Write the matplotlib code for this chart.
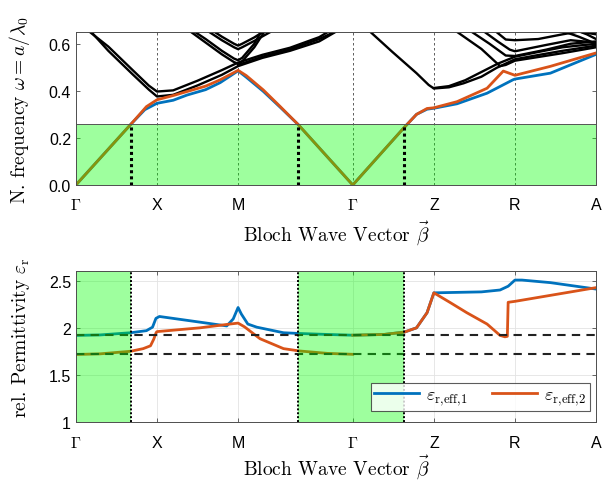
import numpy as np
import matplotlib
matplotlib.use("Agg")
from matplotlib import pyplot as plt

plt.rcParams['font.family'] = ['Liberation Sans', 'DejaVu Sans']
plt.rcParams['mathtext.fontset'] = 'cm'
plt.rcParams['axes.formatter.use_mathtext'] = True

# path Gamma-X-M-Gamma-Z-R-A, segment lengths in units of pi/a
seg_len = [1, 1, np.sqrt(2), 1, 1, 1]
tick_pos = np.concatenate([[0], np.cumsum(seg_len)])
tick_lab = [r'$\Gamma$', 'X', 'M', r'$\Gamma$', 'Z', 'R', 'A']

# light line limit and where the first band crosses it
light_line = 0.257
crossings = [0.675, 2.74, 4.05]

# first band (two polarisations)
b1_x = [0, 0.675, 0.85, 1.0, 1.2, 1.37, 1.6, 1.78, 2.0, 2.1, 2.31, 2.52, 2.74, 3.414,
        4.05, 4.2, 4.33, 4.414, 4.7, 5.07, 5.39, 5.414, 5.85, 6.414]
b1_y = [0, 0.257, 0.32, 0.347, 0.36, 0.382, 0.405, 0.435, 0.485, 0.458, 0.398, 0.33, 0.257, 0,
        0.245, 0.30, 0.322, 0.326, 0.345, 0.39, 0.447, 0.45, 0.475, 0.555]
b2_x = [0, 0.675, 0.87, 1.0, 1.2, 1.37, 1.6, 1.78, 2.0, 2.1, 2.31, 2.52, 2.74, 3.414,
        4.05, 4.2, 4.33, 4.414, 4.7, 5.07, 5.27, 5.414, 5.85, 6.414]
b2_y = [0, 0.257, 0.333, 0.362, 0.38, 0.397, 0.42, 0.447, 0.487, 0.465, 0.404, 0.333, 0.257, 0,
        0.245, 0.30, 0.325, 0.328, 0.354, 0.411, 0.484, 0.466, 0.504, 0.561]

# higher bands (black)
hb = [
    ([0.08, 0.4, 0.7, 0.9, 1.0, 1.2, 1.5, 1.8, 2.0, 2.3, 2.64, 3.0, 3.18],
     [0.675, 0.588, 0.488, 0.422, 0.397, 0.402, 0.443, 0.488, 0.52, 0.553, 0.583, 0.628, 0.665]),
    ([0.15, 0.4, 0.7, 0.9, 1.0, 1.2, 1.5, 1.8, 2.0, 2.3, 2.64, 3.0, 3.2],
     [0.665, 0.57, 0.47, 0.405, 0.376, 0.383, 0.423, 0.468, 0.505, 0.54, 0.57, 0.61, 0.65]),
    ([2.0, 2.3, 2.64, 3.0, 3.25],
     [0.51, 0.545, 0.576, 0.62, 0.66]),
    ([1.38, 1.6, 1.8, 1.95, 2.0, 2.05, 2.2, 2.34],
     [0.66, 0.605, 0.555, 0.522, 0.515, 0.525, 0.585, 0.66]),
    ([1.36, 1.6, 1.8, 1.95, 2.0, 2.05, 2.2, 2.32],
     [0.675, 0.62, 0.57, 0.537, 0.53, 0.54, 0.6, 0.673]),
    ([1.6, 1.8, 1.95, 2.0, 2.05, 2.2, 2.45],
     [0.66, 0.615, 0.585, 0.577, 0.585, 0.612, 0.66]),
    ([1.6, 1.8, 1.95, 2.0, 2.05, 2.2, 2.42],
     [0.675, 0.63, 0.6, 0.592, 0.6, 0.627, 0.675]),
    ([3.6, 3.9, 4.2, 4.35, 4.414, 4.6, 4.78, 5.0, 5.19, 5.414, 5.7, 6.0, 6.414],
     [0.66, 0.566, 0.475, 0.425, 0.41, 0.415, 0.432, 0.46, 0.498, 0.534, 0.552, 0.57, 0.592]),
    ([4.414, 4.6, 4.8, 5.0, 5.2, 5.414, 5.7, 6.0, 6.414],
     [0.412, 0.42, 0.445, 0.48, 0.515, 0.545, 0.565, 0.585, 0.6]),
    ([4.66, 5.0, 5.23, 5.3, 5.414, 6.0, 6.414],
     [0.66, 0.578, 0.505, 0.51, 0.528, 0.56, 0.585]),
    ([4.84, 5.1, 5.3, 5.414, 5.8, 6.1, 6.414],
     [0.66, 0.6, 0.55, 0.548, 0.575, 0.6, 0.61]),
    ([5.0, 5.2, 5.35, 5.414, 5.8, 6.1, 6.414],
     [0.66, 0.61, 0.575, 0.568, 0.595, 0.615, 0.605]),
    ([5.15, 5.3, 5.414, 5.7, 6.0, 6.2, 6.414],
     [0.66, 0.618, 0.615, 0.62, 0.64, 0.652, 0.64]),
    ([5.95, 6.2, 6.414], [0.66, 0.63, 0.6]),
    ([6.15, 6.3, 6.414], [0.66, 0.64, 0.62]),
]

# effective permittivities
e1_x = [0, 0.3, 0.675, 0.87, 0.945, 0.987, 1.03, 1.53, 1.86, 1.94, 2.0, 2.04, 2.12, 2.23,
        2.56, 2.76, 3.1, 3.414, 3.8, 4.05, 4.2, 4.33, 4.414, 5.0, 5.23, 5.33, 5.414, 5.5,
        5.85, 6.414]
e1_y = [1.92, 1.925, 1.948, 1.97, 2.007, 2.10, 2.12, 2.06, 2.02, 2.094, 2.215, 2.146, 2.04,
        2.007, 1.948, 1.94, 1.93, 1.922, 1.93, 1.955, 2.0, 2.16, 2.37, 2.38, 2.40, 2.44,
        2.505, 2.505, 2.478, 2.41]
e2_x = [0, 0.3, 0.675, 0.83, 0.92, 0.96, 0.99, 1.0, 1.53, 1.9, 2.0, 2.08, 2.27, 2.56, 2.76,
        3.1, 3.414, 3.414, 3.414, 3.8, 4.05, 4.2, 4.33, 4.414, 4.61, 4.82, 5.07, 5.23, 5.29,
        5.32, 5.33, 5.414, 6.414]
e2_y = [1.718, 1.725, 1.752, 1.78, 1.81, 1.88, 1.95, 1.96, 2.0, 2.04, 2.05, 2.01, 1.885,
        1.78, 1.755, 1.73, 1.72, np.nan, 1.922, 1.93, 1.955, 2.0, 2.16, 2.37, 2.27, 2.16,
        2.04, 1.92, 1.905, 1.91, 2.27, 2.28, 2.425]
eps_gamma = [1.92, 1.72]

blue = '#0072BD'
orange = '#D95319'
green = '#00ff00'
axcol = '#4d4d4d'
serif = 'cmr10'

fig = plt.figure(figsize=(6.12, 4.85), dpi=100)
ax1 = fig.add_axes([0.124, 0.6165, 0.850, 0.3155])
ax2 = fig.add_axes([0.124, 0.127, 0.850, 0.312])

# --- band diagram
for x, y in hb:
    ax1.plot(x, y, color='k', lw=1.7, zorder=2)
ax1.plot(b1_x, b1_y, color=blue, lw=2, zorder=3)
ax1.plot(b2_x, b2_y, color=orange, lw=2, zorder=3)
ax1.axhspan(0, light_line, color=green, alpha=0.38, lw=0, zorder=4)
ax1.axhline(light_line, color='#555555', lw=0.7, zorder=4)
for t in tick_pos[1:-1]:
    ax1.axvline(t, color='#444444', lw=0.6, ls=(0, (3, 3)), zorder=1)
for c in crossings:
    ax1.plot([c, c], [0, light_line], color='k', lw=2.2, ls=(0, (1, 1)), zorder=5)
ax1.set_xlim(0, tick_pos[-1])
ax1.set_ylim(0, 0.65)
ax1.set_yticks([0, 0.2, 0.4, 0.6])
ax1.set_yticklabels(['0.0', '0.2', '0.4', '0.6'])
ax1.set_ylabel(r'N. frequency $\omega = a/\lambda_0$', fontsize=14, family=serif)
ax1.yaxis.set_label_coords(-0.085, 0.5)

# --- permittivity
ax2.grid(True, color='#e3e3e3', lw=0.6, zorder=0)
ax2.plot(e1_x, e1_y, color=blue, lw=2, zorder=3, label=r'$\varepsilon_{\mathrm{r,\!eff,\!1}}$')
ax2.plot(e2_x, e2_y, color=orange, lw=2, zorder=3, label=r'$\varepsilon_{\mathrm{r,\!eff,\!2}}$')
for e in eps_gamma:
    ax2.axhline(e, color='#222222', lw=1.5, ls=(0, (4, 3)), zorder=3.5)
ax2.axvspan(0, crossings[0], color=green, alpha=0.38, lw=0, zorder=4)
ax2.axvspan(crossings[1], crossings[2], color=green, alpha=0.38, lw=0, zorder=4)
for c in crossings:
    ax2.axvline(c, color='k', lw=1.4, ls=(0, (1, 1)), zorder=5)
ax2.set_xlim(0, tick_pos[-1])
ax2.set_ylim(1, 2.6)
ax2.set_yticks([1, 1.5, 2, 2.5])
ax2.set_yticklabels(['1', '1.5', '2', '2.5'])
ax2.set_ylabel(r'rel. Permittivity $\varepsilon_\mathrm{r}$', fontsize=14, family=serif)
ax2.yaxis.set_label_coords(-0.085, 0.57)
leg = ax2.legend(loc='lower right', ncol=2, fontsize=13, frameon=True, fancybox=False,
                 handlelength=2.5, columnspacing=1.3, borderpad=0.2, borderaxespad=0,
                 bbox_to_anchor=(0.988, 0.078), handletextpad=0.4)
leg.get_frame().set_edgecolor('#333333')
leg.get_frame().set_linewidth(0.8)
leg.set_zorder(10)

for ax in (ax1, ax2):
    ax.set_xticks(tick_pos)
    ax.set_xticklabels(tick_lab)
    ax.tick_params(direction='in', top=True, right=True, labelsize=11.5, length=3,
                   width=0.6, color=axcol)
    ax.tick_params(axis='x', pad=9)
    for s in ax.spines.values():
        s.set_color(axcol)
        s.set_linewidth(0.7)
        s.set_zorder(6)
    ax.set_xlabel(r'Bloch Wave Vector $\vec{\beta}$', fontsize=14, family=serif)
ax1.xaxis.set_label_coords(0.5, -0.215)
ax2.xaxis.set_label_coords(0.5, -0.195)
ax1.tick_params(axis='x', length=0)

fig.savefig('out.png', dpi=100)
